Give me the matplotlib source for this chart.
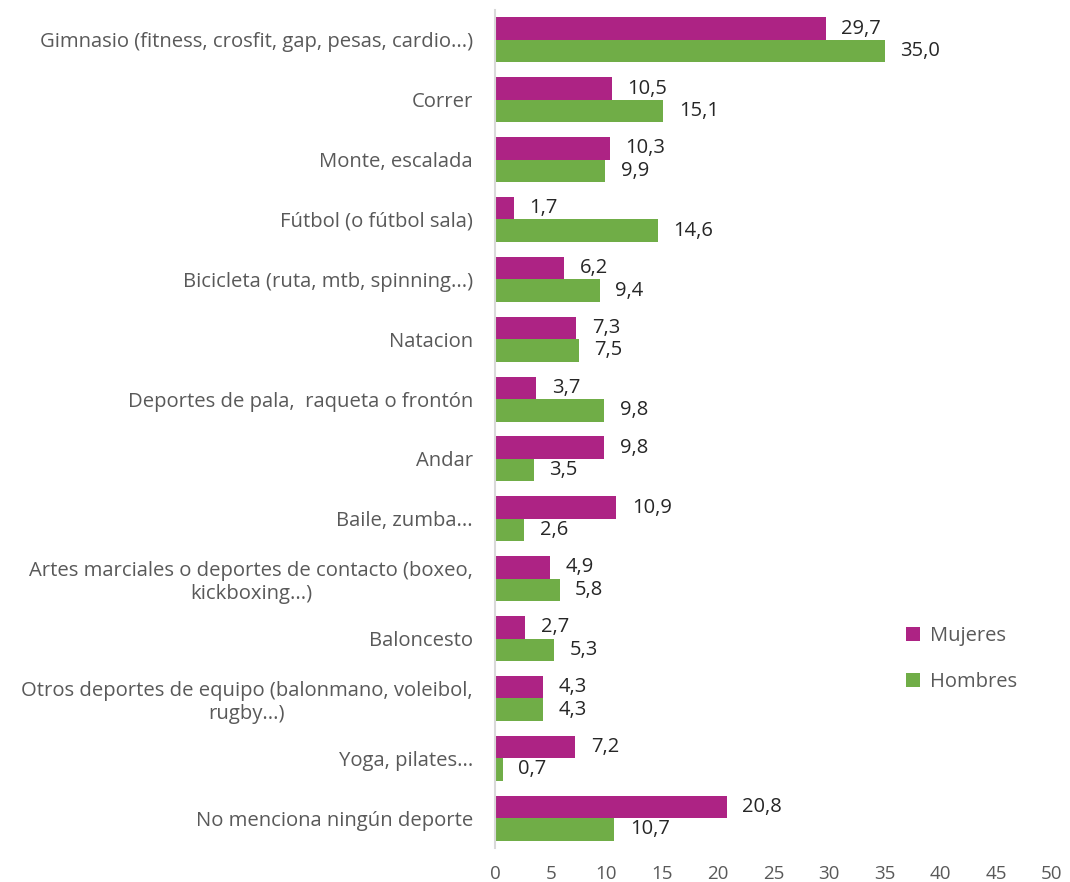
import numpy as np
import matplotlib.pyplot as plt

categorias = [
    "Gimnasio (fitness, crosfit, gap, pesas, cardio...)",
    "Correr",
    "Monte, escalada",
    "Fútbol (o fútbol sala)",
    "Bicicleta (ruta, mtb, spinning...)",
    "Natacion",
    "Deportes de pala,  raqueta o frontón",
    "Andar",
    "Baile, zumba...",
    "Artes marciales o deportes de contacto (boxeo,\nkickboxing...)",
    "Baloncesto",
    "Otros deportes de equipo (balonmano, voleibol,\nrugby...)",
    "Yoga, pilates...",
    "No menciona ningún deporte",
]
mujeres = [29.7, 10.5, 10.3, 1.7, 6.2, 7.3, 3.7, 9.8, 10.9, 4.9, 2.7, 4.3, 7.2, 20.8]
hombres = [35.0, 15.1, 9.9, 14.6, 9.4, 7.5, 9.8, 3.5, 2.6, 5.8, 5.3, 4.3, 0.7, 10.7]

cor_mujeres = "#AD2384"
cor_hombres = "#70AD47"
cinza = "#595959"

plt.rcParams["font.family"] = ["Open Sans", "DejaVu Sans"]

fig = plt.figure(figsize=(10.70, 8.82), dpi=100)
ax = fig.add_axes([0.4626, 0.0385, 0.5205, 0.9502])

y = np.arange(len(categorias))
h = 0.375

b1 = ax.barh(y - h / 2, mujeres, height=h, color=cor_mujeres, label="Mujeres")
b2 = ax.barh(y + h / 2, hombres, height=h, color=cor_hombres, label="Hombres")

for barras, valores in ((b1, mujeres), (b2, hombres)):
    for barra, v in zip(barras, valores):
        ax.text(v + 1.4, barra.get_y() + barra.get_height() / 2,
                f"{v:.1f}".replace(".", ","), va="center", ha="left",
                fontsize=14.5, color="#262626")

ax.set_xlim(0, 50)
ax.set_ylim(len(categorias) - 0.5, -0.5)
ax.set_xticks(np.arange(0, 51, 5))
ax.set_yticks(y)
ax.set_yticklabels(categorias, fontsize=14.6, color=cinza, ha="right",
                   multialignment="center")
ax.tick_params(axis="x", labelsize=13.5, labelcolor=cinza, length=0, pad=12)
ax.tick_params(axis="y", length=0, pad=16)

for lado in ("top", "right", "bottom"):
    ax.spines[lado].set_visible(False)
ax.spines["left"].set_color("#D9D9D9")
ax.spines["left"].set_linewidth(1.5)

ax.legend(loc="upper left", bbox_to_anchor=(0.705, 0.287), frameon=False,
          fontsize=14.5, labelcolor=cinza, handlelength=0.7, handleheight=0.7,
          labelspacing=1.3, handletextpad=0.5)

fig.savefig("out.png", dpi=100)
